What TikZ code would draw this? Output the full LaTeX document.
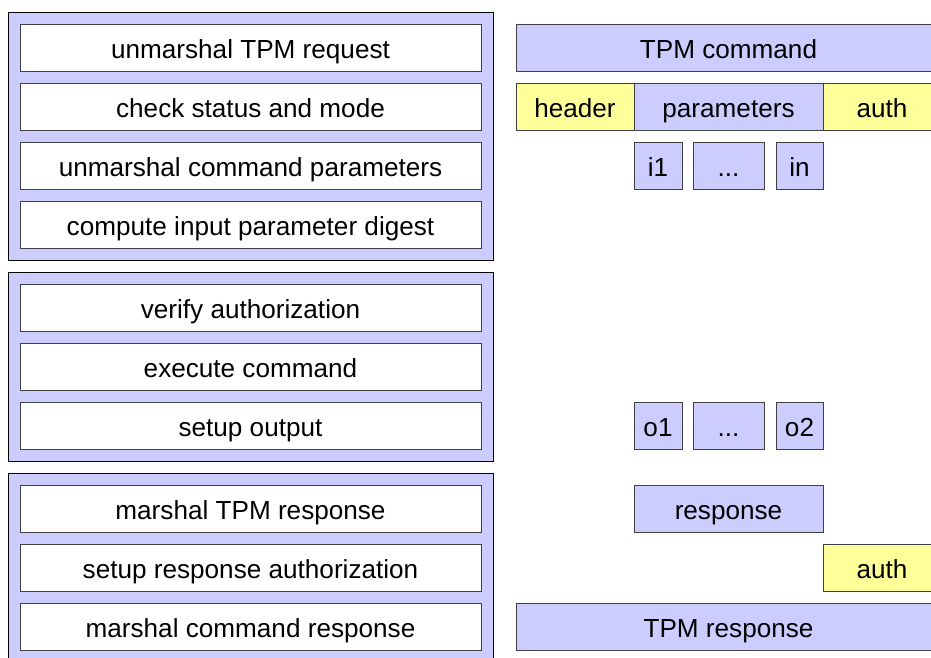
\documentclass[tikz,border=0pt]{standalone}
\usepackage{fontspec}
\setmainfont{Liberation Sans}
\usetikzlibrary{positioning,fit,backgrounds}
\definecolor{lav}{HTML}{CCCCFF}
\definecolor{pale}{HTML}{FFFF99}

\begin{document}
\begin{tikzpicture}[x=0.75pt,y=-0.75pt,
    font=\fontsize{19.6}{22}\selectfont,
    box/.style={draw=black!75,line width=0.75pt,inner sep=0pt,outer sep=0pt,
        minimum height=35.25pt,text height=16.4pt,text depth=0pt},
    stepbox/.style={box,fill=white,minimum width=345.75pt},
    field/.style={box,fill=lav},
    extra/.style={box,fill=pale},
    grp/.style={draw=black,line width=0.75pt,fill=lav,inner sep=9pt},
    node distance=9pt]
    \useasboundingbox (0,0) rectangle (931,657);

    % processing steps
    \node[stepbox] (s1) at (250.5,47.5) {unmarshal TPM request};
    \node[stepbox,below=of s1] (s2) {check status and mode};
    \node[stepbox,below=of s2] (s3) {unmarshal command parameters};
    \node[stepbox,below=of s3] (s4) {compute input parameter digest};
    \node[stepbox,below=27pt of s4] (s5) {verify authorization};
    \node[stepbox,below=of s5] (s6) {execute command};
    \node[stepbox,below=of s6] (s7) {setup output};
    \node[stepbox,below=27pt of s7] (s8) {marshal TPM response};
    \node[stepbox,below=of s8] (s9) {setup response authorization};
    \node[stepbox,below=of s9] (s10) {marshal command response};

    \begin{scope}[on background layer]
        \fill[white] (0,0) rectangle (931,657);
        \node[grp,fit=(s1)(s4)] (g1) {};
        \node[grp,fit=(s5)(s7)] (g2) {};
        \node[grp,fit=(s8)(s10)] (g3) {};
    \end{scope}

    % data
    \node[field,minimum width=318.75pt] (cmd) at (728.5,47.5) {TPM command};
    \node[extra,minimum width=88.5pt] (hdr) at (575,106.5) {header};
    \node[field,minimum width=141.75pt,right=0pt of hdr] (par) {parameters};
    \node[extra,minimum width=88.5pt,right=0pt of par] (cauth) {auth};
    \node[field,minimum width=36pt] (i1) at (658,165.5) {i1};
    \node[field,minimum width=53.25pt] (idots) at (728.5,165.5) {...};
    \node[field,minimum width=35.25pt] (in) at (799.5,165.5) {in};
    \node[field,minimum width=36pt] (o1) at (658,425.5) {o1};
    \node[field,minimum width=53.25pt] (odots) at (728.5,425.5) {...};
    \node[field,minimum width=35.25pt] (o2) at (799.5,425.5) {o2};
    \node[field,minimum width=141.75pt] (resp) at (728.5,508.5) {response};
    \node[extra,minimum width=88.5pt] (rauth) at (882,567.5) {auth};
    \node[field,minimum width=318.75pt] (rsp) at (728.5,626.5) {TPM response};
\end{tikzpicture}
\end{document}
